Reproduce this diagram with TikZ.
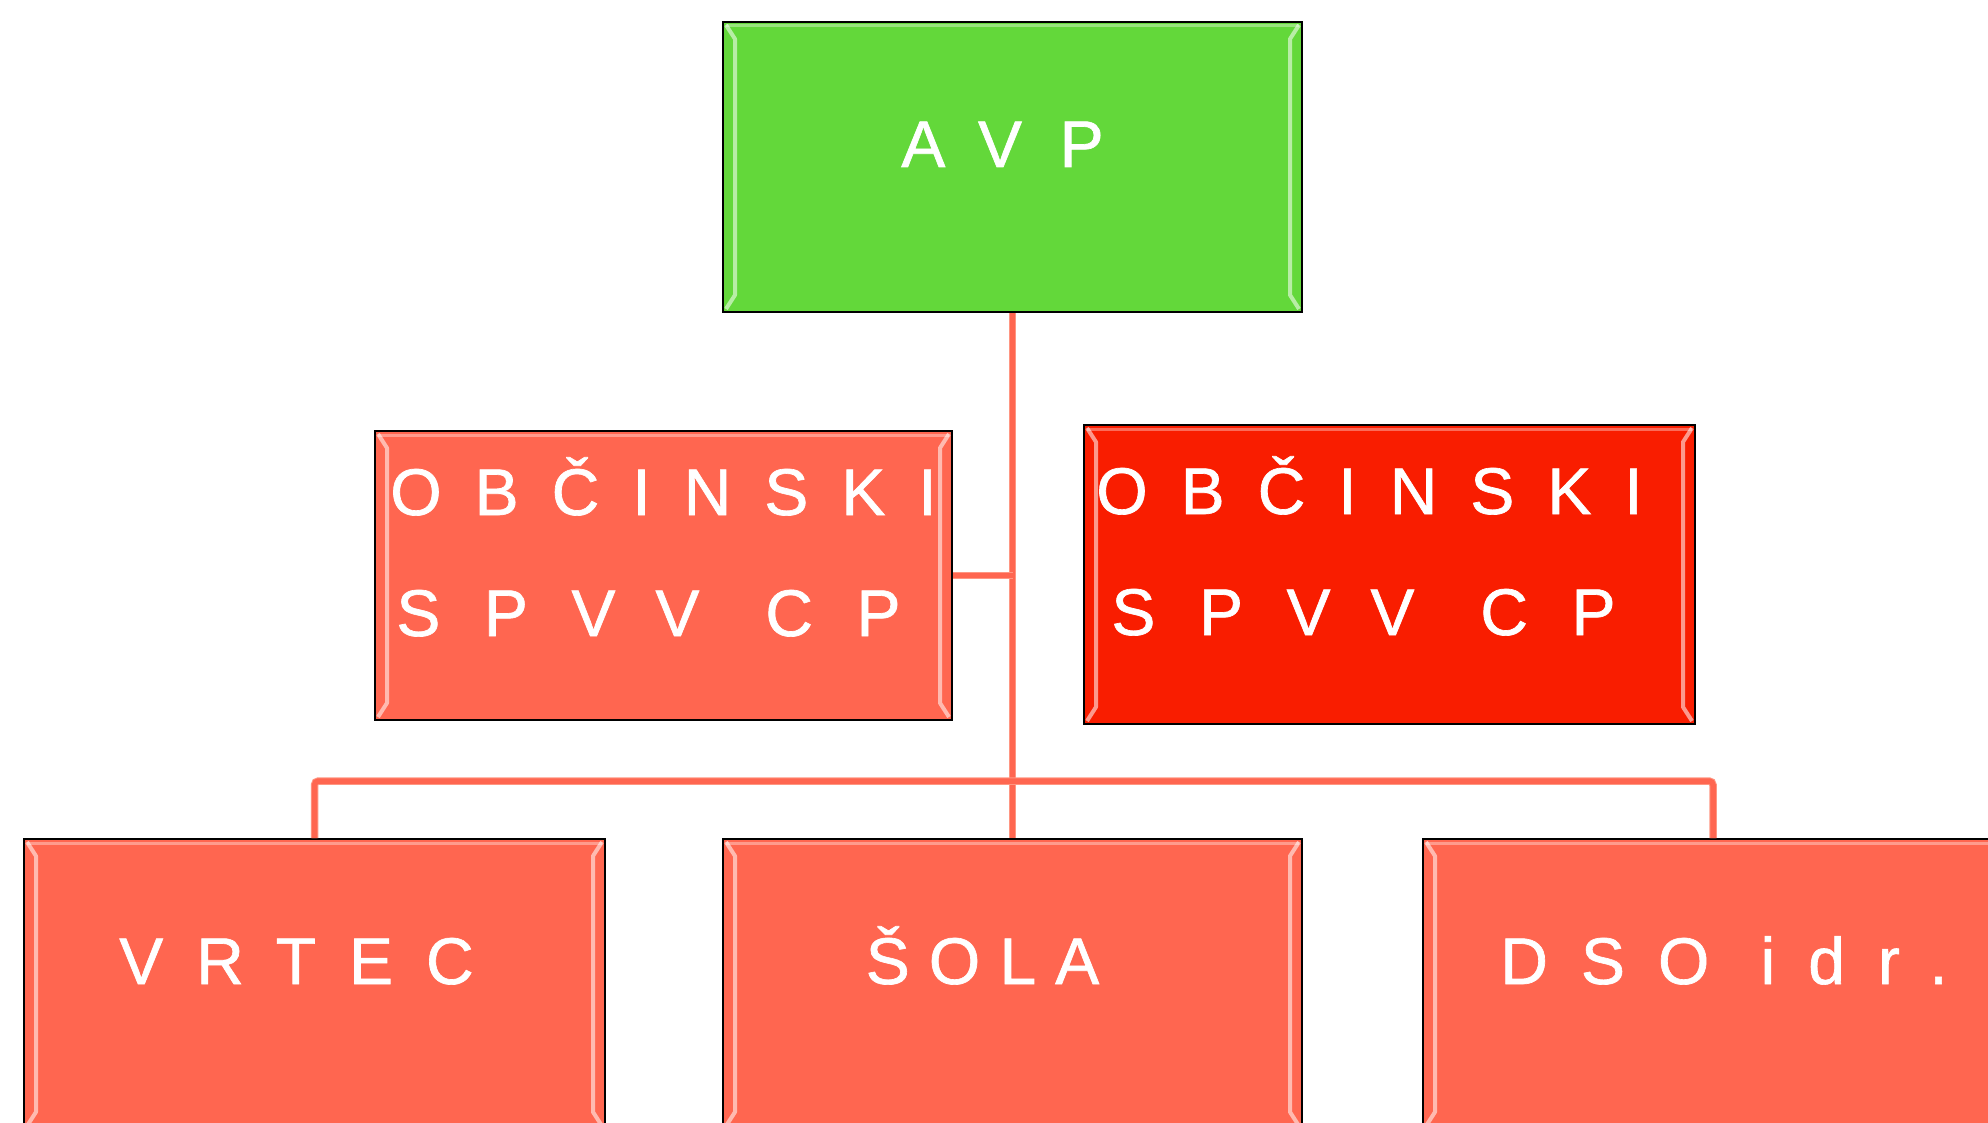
\documentclass[tikz,border=0pt]{standalone}
\usepackage{fontspec}
\newfontfamily\boxfont{Liberation Sans}[LetterSpace=50,FakeBold=1]
\definecolor{avpgreen}{RGB}{99,216,58}
\definecolor{salmon}{RGB}{255,102,80}
\definecolor{brightred}{RGB}{249,29,0}
\definecolor{lineedge}{RGB}{255,150,130}
\newcommand{\ls}[1]{\addfontfeature{LetterSpace=#1}}
\tikzset{
  bevel/.style={path picture={
    \draw[white,opacity=.55,line width=4pt,line join=round]
      ([shift={(3pt,-3pt)}]path picture bounding box.north west) --
      ([shift={(12pt,-17pt)}]path picture bounding box.north west) --
      ([shift={(12pt,17pt)}]path picture bounding box.south west) --
      ([shift={(3pt,3pt)}]path picture bounding box.south west);
    \draw[white,opacity=.55,line width=4pt,line join=round]
      ([shift={(-3pt,-3pt)}]path picture bounding box.north east) --
      ([shift={(-12pt,-17pt)}]path picture bounding box.north east) --
      ([shift={(-12pt,17pt)}]path picture bounding box.south east) --
      ([shift={(-3pt,3pt)}]path picture bounding box.south east);
    \draw[white,opacity=.35,line width=3pt]
      ([shift={(3pt,-4pt)}]path picture bounding box.north west) --
      ([shift={(-3pt,-4pt)}]path picture bounding box.north east);
  }},
  box/.style={rectangle,draw=black,line width=2pt,inner sep=0pt,bevel},
  boxtext/.style={anchor=base,text=white,align=center,inner sep=0pt,
    font=\boxfont\fontsize{66pt}{121pt}\selectfont},
  conn/.style={draw=lineedge,line width=1pt,double=salmon,double distance=5.5pt,rounded corners=4pt}
}
\begin{document}
\begin{tikzpicture}[x=1pt,y=-1pt]
\clip (0,0) rectangle (1988,1123);
\fill[white] (0,0) rectangle (1988,1123);
% boxes
\node[box,fill=avpgreen,minimum width=579pt,minimum height=290pt] (avp) at (1012.5,167) {};
\node[box,fill=salmon,minimum width=577pt,minimum height=289pt] (obl) at (663.5,575.5) {};
\node[box,fill=brightred,minimum width=611pt,minimum height=299pt] (obr) at (1389.5,574.5) {};
\node[box,fill=salmon,minimum width=581pt,minimum height=290pt] (vrtec) at (314.5,984) {};
\node[box,fill=salmon,minimum width=579pt,minimum height=290pt] (sola) at (1012.5,984) {};
\node[box,fill=salmon,minimum width=580pt,minimum height=290pt] (dso) at (1713,984) {};
% texts
\node[boxtext] (avpt) at ([xshift=-10pt]avp.center) {\ls{57}AVP};
\node[boxtext] (oblt) at ([shift={(0pt,-60.5pt)}]obl.center) {OBČINSKI\\\ls{66}SPV\hspace{-22pt} V\hspace{4pt} CP\kern30pt};
\node[boxtext] (obrt) at ([shift={(-20pt,-60.5pt)}]obr.center) {OBČINSKI\\\ls{66}SPV\hspace{-22pt} V\hspace{4pt} CP\kern12pt};
\node[boxtext] (vrtect) at ([xshift=-18pt]vrtec.center) {VRTEC};
\node[boxtext] (solat) at ([xshift=-30pt]sola.center) {\ls{29}ŠOLA};
\node[boxtext] (dsot) at ([xshift=11pt]dso.center) {DSO idr.};
% connectors
\coordinate (bus) at (1012.5,781);
\draw[conn] (avp.south) -- (sola.north);
\draw[conn] (obl.east) -- (obl.east -| avp.south);
\draw[conn] (vrtec.north) |- (bus) -| (dso.north);
\end{tikzpicture}
\end{document}
